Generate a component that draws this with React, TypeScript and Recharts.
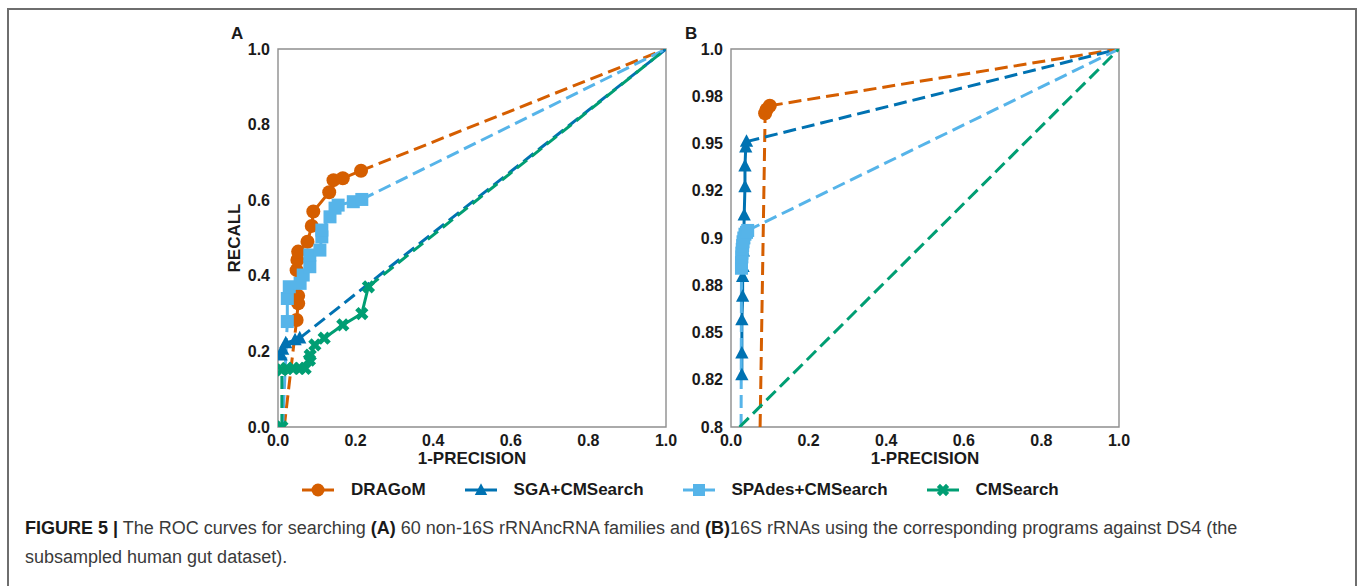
import React from "react";
import { LineChart, Line, XAxis, YAxis, ReferenceArea } from "recharts";

const ORANGE = "#D55E00";
const BLUE = "#0072B2";
const SKY = "#56B4E9";
const GREEN = "#009E73";
const FONT = "'Liberation Sans', Arial, Helvetica, sans-serif";

const X_TICKS = [0, 0.2, 0.4, 0.6, 0.8, 1.0];
const A_Y_TICKS = [0, 0.2, 0.4, 0.6, 0.8, 1.0];
const B_Y_TICKS = [0.8, 0.825, 0.85, 0.875, 0.9, 0.925, 0.95, 0.975, 1.0];
const B_Y_TICK_LABELS = ["0.8", "0.82", "0.85", "0.88", "0.9", "0.92", "0.95", "0.98", "1.0"];

// panel A: 60 non-16S rRNA ncRNA families
const A_DRAGOM_X = [0.048, 0.052, 0.052, 0.048, 0.05, 0.052, 0.076, 0.087, 0.091, 0.132, 0.143, 0.167, 0.214];
const A_DRAGOM_Y = [0.283, 0.327, 0.347, 0.415, 0.442, 0.464, 0.49, 0.532, 0.57, 0.621, 0.653, 0.658, 0.678];
const A_SGA_X = [0.008, 0.012, 0.02, 0.044, 0.056];
const A_SGA_Y = [0.19, 0.205, 0.222, 0.23, 0.235];
const A_SPADES_X = [0.024, 0.024, 0.029, 0.057, 0.065, 0.082, 0.082, 0.108, 0.113, 0.113, 0.134, 0.147, 0.155, 0.194, 0.216];
const A_SPADES_Y = [0.279, 0.34, 0.371, 0.38, 0.402, 0.424, 0.455, 0.468, 0.503, 0.521, 0.556, 0.579, 0.587, 0.596, 0.602];
const A_CMS_X = [0.01, 0.022, 0.04, 0.055, 0.07, 0.081, 0.083, 0.095, 0.119, 0.167, 0.216, 0.233];
const A_CMS_Y = [0.151, 0.155, 0.155, 0.155, 0.155, 0.177, 0.19, 0.217, 0.235, 0.27, 0.3, 0.371];

// panel B: 16S rRNAs
const B_DRAGOM_X = [0.088, 0.092, 0.1];
const B_DRAGOM_Y = [0.966, 0.968, 0.97];
const B_SGA_X = [0.028, 0.028, 0.028, 0.03, 0.03, 0.031, 0.032, 0.033, 0.034, 0.036, 0.036, 0.038, 0.04];
const B_SGA_Y = [0.8275, 0.839, 0.8566, 0.869, 0.8795, 0.8848, 0.893, 0.9, 0.912, 0.927, 0.938, 0.948, 0.951];
const B_SPADES_X = [0.027, 0.027, 0.028, 0.028, 0.029, 0.03, 0.031, 0.033, 0.036, 0.04, 0.043];
const B_SPADES_Y = [0.884, 0.887, 0.89, 0.892, 0.894, 0.896, 0.898, 0.9, 0.902, 0.903, 0.904];

const zip = (xs: number[], ys: number[]) => xs.map((x, i) => ({ x, y: ys[i] }));
const END = { x: 1, y: 1 };

type Kind = "circle" | "triangle" | "square" | "x";
type Pt = { x: number; y: number };
type Series = { name: string; color: string; kind: Kind; pts: Pt[]; start?: Pt; startMark?: boolean };

function Marker({ kind, cx, cy, color, size = 14 }: { kind: Kind; cx: number; cy: number; color: string; size?: number }) {
  if (cx == null || cy == null) return null;
  const h = size / 2;
  if (kind === "circle") return <circle cx={cx} cy={cy} r={h} fill={color} />;
  if (kind === "square") return <rect x={cx - h + 0.5} y={cy - h + 0.5} width={size - 1} height={size - 1} fill={color} />;
  if (kind === "triangle") {
    return <path d={`M${cx},${cy - h * 1.05} L${cx + h * 0.95},${cy + h * 0.75} L${cx - h * 0.95},${cy + h * 0.75} Z`} fill={color} />;
  }
  const a = h, b = size * 0.17;
  const raw = [[b, a], [b, b], [a, b], [a, -b], [b, -b], [b, -a], [-b, -a], [-b, -b], [-a, -b], [-a, b], [-b, b], [-b, a]];
  const d = raw
    .map(([x, y], i) => `${i ? "L" : "M"}${cx + (x - y) / Math.SQRT2},${cy + (x + y) / Math.SQRT2}`)
    .join(" ") + " Z";
  return <path d={d} fill={color} />;
}

const A_SERIES: Series[] = [
  { name: "DRAGoM", color: ORANGE, kind: "circle", pts: zip(A_DRAGOM_X, A_DRAGOM_Y), start: { x: 0.016, y: 0 } },
  { name: "SGA+CMSearch", color: BLUE, kind: "triangle", pts: zip(A_SGA_X, A_SGA_Y) },
  { name: "SPAdes+CMSearch", color: SKY, kind: "square", pts: zip(A_SPADES_X, A_SPADES_Y), start: { x: 0.012, y: 0 } },
  { name: "CMSearch", color: GREEN, kind: "x", pts: zip(A_CMS_X, A_CMS_Y), start: { x: 0.01, y: 0 }, startMark: true },
];

const B_SERIES: Series[] = [
  { name: "DRAGoM", color: ORANGE, kind: "circle", pts: zip(B_DRAGOM_X, B_DRAGOM_Y), start: { x: 0.075, y: 0.8 } },
  { name: "SGA+CMSearch", color: BLUE, kind: "triangle", pts: zip(B_SGA_X, B_SGA_Y) },
  { name: "SPAdes+CMSearch", color: SKY, kind: "square", pts: zip(B_SPADES_X, B_SPADES_Y), start: { x: 0.026, y: 0.8 } },
  { name: "CMSearch", color: GREEN, kind: "x", pts: [], start: { x: 0.022, y: 0.8 } },
];

const tickStyle = { fontSize: 16, fontWeight: 700, fill: "#1a1a1a", fontFamily: FONT };
const DASH = "13 6";

function Panel({ series, yMin, yTicks, yFmt }: { series: Series[]; yMin: number; yTicks: number[]; yFmt: (v: number) => string }) {
  const lines: React.ReactNode[] = [];
  series.forEach((s) => {
    const first = s.pts[0];
    const last = s.pts[s.pts.length - 1];
    if (s.start) {
      const head = [s.start, first || END];
      lines.push(
        <Line
          key={s.name + "-head"}
          data={head}
          dataKey="y"
          type="linear"
          stroke={s.color}
          strokeWidth={3}
          strokeDasharray={DASH}
          dot={(p: any) =>
            s.startMark && p.index === 0 ? (
              <Marker key={p.index} kind={s.kind} cx={p.cx} cy={p.cy} color={s.color} />
            ) : (
              <g key={p.index} />
            )
          }
          isAnimationActive={false}
        />
      );
    }
    if (s.pts.length) {
      lines.push(
        <Line
          key={s.name + "-pts"}
          data={s.pts}
          dataKey="y"
          type="linear"
          stroke={s.color}
          strokeWidth={3}
          dot={(p: any) => <Marker key={p.index} kind={s.kind} cx={p.cx} cy={p.cy} color={s.color} />}
          isAnimationActive={false}
        />
      );
      lines.push(
        <Line
          key={s.name + "-tail"}
          data={[last, END]}
          dataKey="y"
          type="linear"
          stroke={s.color}
          strokeWidth={3}
          strokeDasharray={DASH}
          dot={false}
          isAnimationActive={false}
        />
      );
    }
  });
  return (
    <LineChart width={480} height={440} margin={{ top: 29, right: 14, left: 0, bottom: 0 }}>
      <XAxis
        type="number"
        dataKey="x"
        domain={[0, 1]}
        ticks={X_TICKS}
        interval={0}
        tickFormatter={(v: number) => v.toFixed(1)}
        axisLine={false}
        tickLine={false}
        height={33}
        tick={tickStyle}
        allowDataOverflow
      />
      <YAxis
        type="number"
        domain={[yMin, 1]}
        ticks={yTicks}
        interval={0}
        tickFormatter={yFmt}
        axisLine={false}
        tickLine={false}
        width={78}
        tick={tickStyle}
        allowDataOverflow
      />
      <ReferenceArea x1={0} x2={1} y1={yMin} y2={1} fill="none" stroke="#8e8e8e" strokeWidth={1.4} />
      {lines}
    </LineChart>
  );
}

const LEGEND: { name: string; color: string; kind: Kind }[] = [
  { name: "DRAGoM", color: ORANGE, kind: "circle" },
  { name: "SGA+CMSearch", color: BLUE, kind: "triangle" },
  { name: "SPAdes+CMSearch", color: SKY, kind: "square" },
  { name: "CMSearch", color: GREEN, kind: "x" },
];

const abs = (left: number, top: number): React.CSSProperties => ({ position: "absolute", left, top });
const boldLabel: React.CSSProperties = { fontFamily: FONT, fontWeight: 700, fontSize: 17, color: "#1a1a1a", whiteSpace: "nowrap" };

export default function App() {
  return (
    <div style={{ position: "absolute", left: 0, top: 0, width: 1358, height: 586, overflow: "hidden", background: "#fff" }}>
      <div
        style={{
          position: "absolute",
          left: 7,
          top: 8,
          width: 1350,
          height: 620,
          boxSizing: "border-box",
          borderTop: "2px solid #6e6e6e",
          borderLeft: "2px solid #6e6e6e",
          borderRight: "2px solid #6e6e6e",
        }}
      />
      <div style={{ ...abs(200, 20) }}>
        <Panel series={A_SERIES} yMin={0} yTicks={A_Y_TICKS} yFmt={(v) => v.toFixed(1)} />
      </div>
      <div style={{ ...abs(653, 20) }}>
        <Panel
          series={B_SERIES}
          yMin={0.8}
          yTicks={B_Y_TICKS}
          yFmt={(v) => B_Y_TICK_LABELS[B_Y_TICKS.findIndex((t) => Math.abs(t - v) < 1e-6)] ?? ""}
        />
      </div>

      <div style={{ ...abs(231, 24), ...boldLabel }}>A</div>
      <div style={{ ...abs(685, 24), ...boldLabel }}>B</div>
      <div style={{ ...abs(472, 459), ...boldLabel, transform: "translate(-50%, -50%)" }}>1-PRECISION</div>
      <div style={{ ...abs(925, 459), ...boldLabel, transform: "translate(-50%, -50%)" }}>1-PRECISION</div>
      <div style={{ ...abs(235, 238), ...boldLabel, transform: "translate(-50%, -50%) rotate(-90deg)" }}>RECALL</div>

      <div style={{ ...abs(302, 480), display: "flex", alignItems: "center", height: 20 }}>
        {LEGEND.map((l, i) => (
          <div key={l.name} style={{ display: "flex", alignItems: "center", marginLeft: i ? 39 : 0 }}>
            <svg width={32} height={18}>
              <line x1={0} y1={9} x2={32} y2={9} stroke={l.color} strokeWidth={3} />
              <Marker kind={l.kind} cx={16} cy={9} color={l.color} size={13} />
            </svg>
            <span style={{ ...boldLabel, fontSize: 17, marginLeft: 17 }}>{l.name}</span>
          </div>
        ))}
      </div>

      <div style={{ ...abs(25, 514), fontFamily: FONT, fontSize: 18, color: "#3a3a3a", lineHeight: "29px", whiteSpace: "nowrap" }}>
        <b style={{ color: "#1a1a1a" }}>FIGURE 5 |</b> The ROC curves for searching <b style={{ color: "#1a1a1a" }}>(A)</b> 60
        non-16S rRNAncRNA families and <b style={{ color: "#1a1a1a" }}>(B)</b>16S rRNAs using the corresponding programs against DS4 (the
        <br />
        subsampled human gut dataset).
      </div>
    </div>
  );
}
